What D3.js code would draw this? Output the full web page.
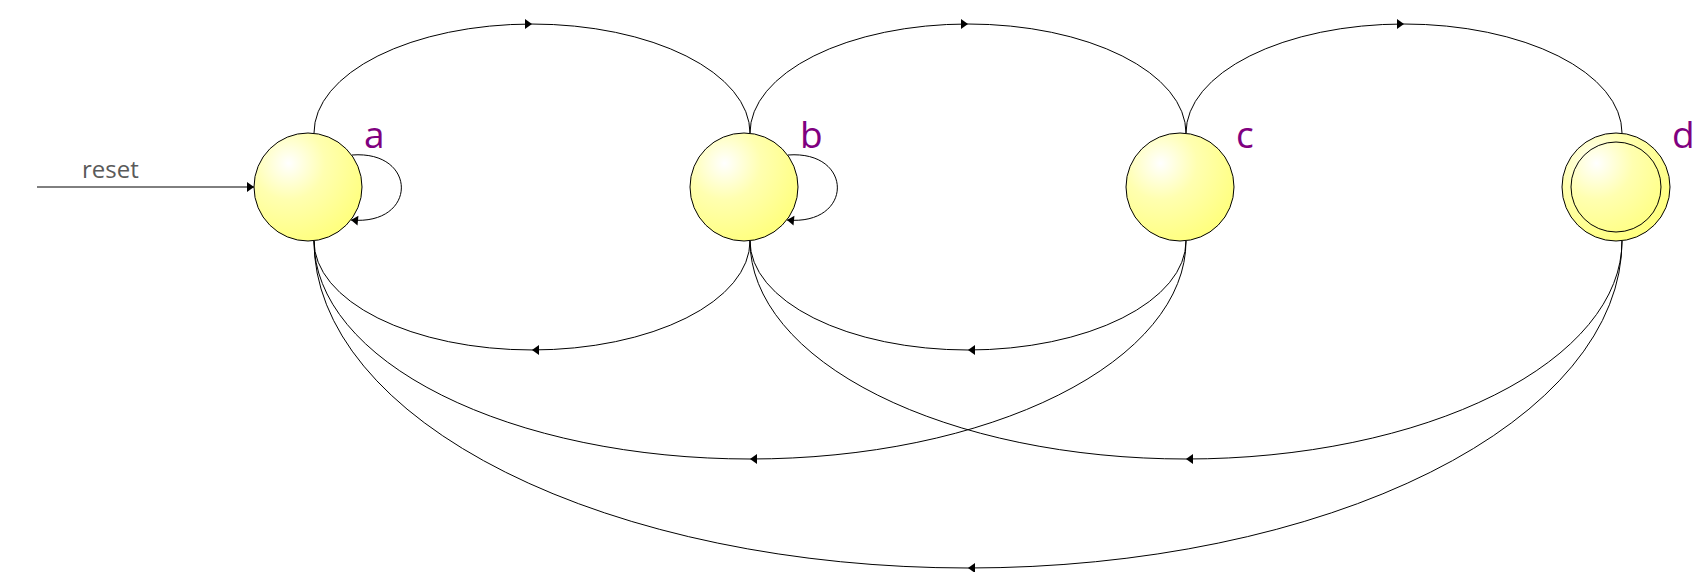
<!DOCTYPE html>
<html>
<head>
<meta charset="utf-8">
<script src="https://cdn.jsdelivr.net/npm/d3@7"></script>
<style>
  html, body { margin: 0; padding: 0; background: #ffffff; }
  svg { display: block; }
</style>
</head>
<body>
<svg id="chart" width="1698" height="572"></svg>
<script>
// ---- data ----
const states = ["a", "b", "c", "d"];
const acceptingStates = ["d"];
const initialState = "a";
const initialLabel = "reset";
const topEdges = [["a", "b"], ["b", "c"], ["c", "d"]];
const bottomEdges = [["b", "a"], ["c", "b"], ["c", "a"], ["d", "b"], ["d", "a"]];
const selfLoops = ["a", "b"];

// ---- layout ----
const W = 1698, H = 572;
const R = 54, Rinner = 45, cy = 187, attach = 6;
const x = d3.scalePoint().domain(states).range([308, 1616]);

const svg = d3.select("#chart");
const defs = svg.append("defs");
const grad = defs.append("radialGradient").attr("id", "ball")
  .attr("cx", "32%").attr("cy", "28%").attr("r", "75%").attr("fx", "32%").attr("fy", "28%");
grad.append("stop").attr("offset", "0%").attr("stop-color", "#ffffff");
grad.append("stop").attr("offset", "45%").attr("stop-color", "#ffffb0");
grad.append("stop").attr("offset", "100%").attr("stop-color", "#ffff80");

function arrow(g, px, py, angle) {
  g.append("path")
    .attr("d", "M0,0 L-7,-5 L-7,5 Z")
    .attr("transform", `translate(${px},${py}) rotate(${angle})`)
    .attr("fill", "#000");
}

const edges = svg.append("g").attr("fill", "none").attr("stroke", "#000").attr("stroke-width", 1);
const heads = svg.append("g");

// top arcs (left -> right)
topEdges.forEach(([s, t]) => {
  const x0 = x(s) + attach, x1 = x(t) + attach, y0 = cy - R;
  const a = (x1 - x0) / 2, b = a / 2;
  edges.append("path").attr("d", `M${x0},${y0} A${a},${b} 0 0 1 ${x1},${y0}`);
  arrow(heads, (x0 + x1) / 2, y0 - b, 0);
});

// bottom arcs (right -> left)
bottomEdges.forEach(([s, t]) => {
  const x0 = x(s) + attach, x1 = x(t) + attach, y0 = cy + R;
  const a = (x0 - x1) / 2, b = a / 2;
  edges.append("path").attr("d", `M${x0},${y0} A${a},${b} 0 0 1 ${x1},${y0}`);
  arrow(heads, (x0 + x1) / 2, y0 + b, 180);
});

// self loops
selfLoops.forEach(s => {
  const cx = x(s);
  const sx = cx + 44, sy = cy - 32, ex = cx + 43, ey = cy + 33;
  const c1x = cx + 110, c1y = cy - 37, c2x = cx + 110, c2y = cy + 39;
  edges.append("path").attr("d", `M${sx},${sy} C${c1x},${c1y} ${c2x},${c2y} ${ex},${ey}`);
  const ang = Math.atan2(ey - c2y, ex - c2x) * 180 / Math.PI;
  arrow(heads, ex, ey, ang);
});

// initial arrow
const ix = x(initialState);
edges.append("line").attr("x1", 37).attr("y1", cy).attr("x2", ix - R).attr("y2", cy);
arrow(heads, ix - R, cy, 0);
svg.append("text").attr("x", 82).attr("y", 178)
  .attr("font-family", "'Open Sans', sans-serif").attr("font-size", 24)
  .attr("fill", "#5a5a5a").text(initialLabel);

// states
const nodes = svg.append("g").selectAll("g").data(states).join("g")
  .attr("transform", d => `translate(${x(d)},${cy})`);
nodes.append("circle").attr("r", R).attr("fill", "url(#ball)")
  .attr("stroke", "#000").attr("stroke-width", 1);
nodes.filter(d => acceptingStates.includes(d)).append("circle")
  .attr("r", Rinner).attr("fill", "none").attr("stroke", "#000").attr("stroke-width", 1);
nodes.append("text").attr("x", 56).attr("y", -39)
  .attr("font-family", "'Open Sans', sans-serif").attr("font-size", 37)
  .attr("fill", "#800080").text(d => d);
</script>
</body>
</html>
